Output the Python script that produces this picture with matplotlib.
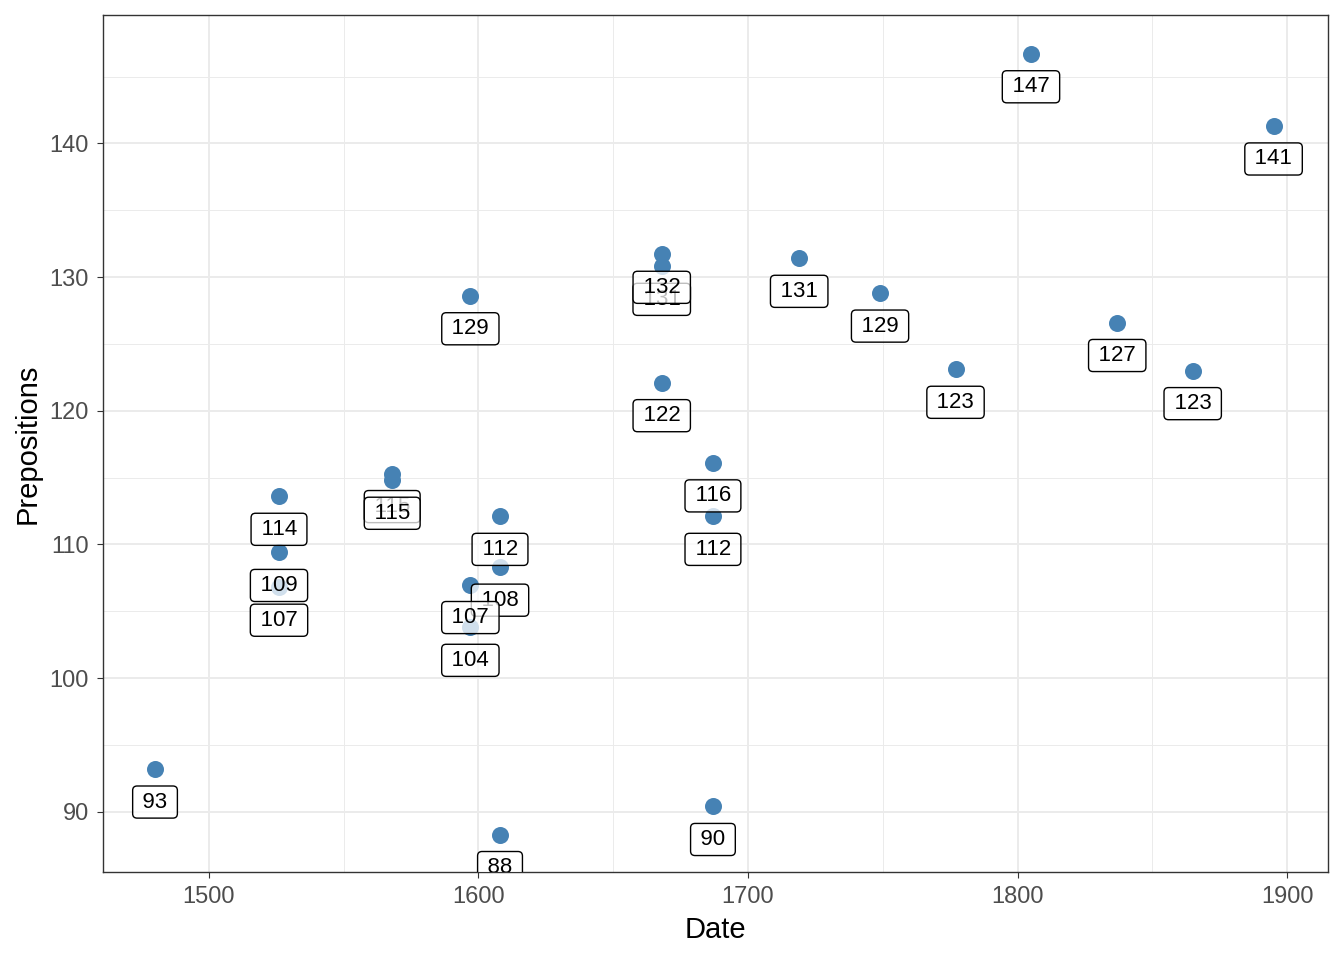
import numpy as np
import matplotlib.pyplot as plt
from matplotlib.ticker import MultipleLocator

plt.rcParams['font.family'] = ['Liberation Sans', 'DejaVu Sans']

# dates and preposition counts
date = [1480, 1526, 1526, 1526, 1568, 1568, 1597, 1597, 1597, 1608, 1608, 1608,
        1668, 1668, 1668, 1687, 1687, 1687, 1719, 1749, 1777, 1805, 1837, 1865, 1895]
prepositions = [93.2, 113.6, 109.4, 106.8, 115.3, 114.8, 128.6, 107.0, 103.8, 112.1, 108.3, 88.3,
                130.8, 131.7, 122.1, 116.1, 112.1, 90.4, 131.4, 128.8, 123.1, 146.7, 126.6, 123.0, 141.3]
labels = ['93', '114', '109', '107', '115', '115', '129', '107', '104', '112', '108', '88',
          '131', '132', '122', '116', '112', '90', '131', '129', '123', '147', '127', '123', '141']

fig = plt.figure(figsize=(13.44, 9.6), dpi=100)
ax = fig.add_axes([103/1344, 1-872/960, (1328-103)/1344, (872-15)/960])

ax.scatter(date, prepositions, s=150, color='#4682B4', zorder=3, linewidths=0)

# labels below the points
order = [0, 1, 2, 3, 4, 5, 6, 9, 10, 7, 8, 11, 12, 13, 14, 15, 16, 17, 18, 19, 20, 21, 22, 23, 24]
for k, i in enumerate(order):
    ax.annotate('\u2009' + labels[i] + '\u2009', (date[i], prepositions[i]),
                xytext=(0, -33), textcoords='offset pixels',
                ha='center', va='center', fontsize=16, color='black', zorder=4 + k * 0.01,
                bbox=dict(boxstyle='round,pad=0.25,rounding_size=0.2', fc=(1, 1, 1, 0.75),
                          ec='black', lw=1.0),
                annotation_clip=False, clip_on=True)

ax.set_xlim(1460.7, 1915.2)
ax.set_ylim(85.5, 149.6)
ax.xaxis.set_major_locator(MultipleLocator(100))
ax.xaxis.set_minor_locator(MultipleLocator(50))
ax.yaxis.set_major_locator(MultipleLocator(10))
ax.yaxis.set_minor_locator(MultipleLocator(5))
ax.grid(which='major', color='#EBEBEB', lw=1.4, zorder=0)
ax.grid(which='minor', color='#EBEBEB', lw=0.7, zorder=0)
ax.set_axisbelow(True)
ax.tick_params(which='major', length=4, color='#333333', labelsize=17, labelcolor='#4D4D4D', pad=6)
ax.tick_params(which='minor', length=0)
for sp in ax.spines.values():
    sp.set_color('#333333')
    sp.set_linewidth(1.0)

ax.set_xlabel('Date', fontsize=21, labelpad=6)
ax.set_ylabel('Prepositions', fontsize=21, labelpad=6)

fig.savefig('out.png', dpi=100)
